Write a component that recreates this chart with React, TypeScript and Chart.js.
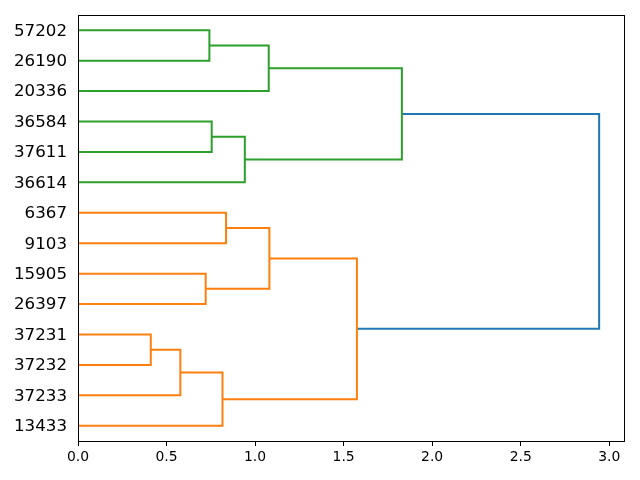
import React, { useEffect, useRef } from "react";
import { Chart, registerables } from "chart.js";

Chart.register(...registerables);

// Leaves from bottom (position 5) to top (position 135)
const LEAVES = ["13433", "37233", "37232", "37231", "26397", "15905", "9103", "6367", "36614", "37611", "36584", "20336", "26190", "57202"];

// Merges: clusters numbered from LEAVES.length upward
const MERGE_A = [3, 14, 15, 5, 7, 18, 19, 10, 21, 13, 23, 24, 25];
const MERGE_B = [2, 1, 0, 4, 6, 17, 16, 9, 8, 12, 11, 22, 20];
const MERGE_HEIGHT = [0.411, 0.578, 0.816, 0.721, 0.836, 1.081, 1.575, 0.755, 0.942, 0.742, 1.077, 1.829, 2.943];
const MERGE_COLOR = ["#ff7f0e", "#ff7f0e", "#ff7f0e", "#ff7f0e", "#ff7f0e", "#ff7f0e", "#ff7f0e", "#2ca02c", "#2ca02c", "#2ca02c", "#2ca02c", "#2ca02c", "#1f77b4"];

const X_TICKS = [0, 0.5, 1.0, 1.5, 2.0, 2.5, 3.0];
const X_MAX = 3.089;

function buildDatasets() {
  const pos: number[] = LEAVES.map((_, i) => 5 + 10 * i);
  const hgt: number[] = LEAVES.map(() => 0);
  const datasets: any[] = [];
  MERGE_A.forEach((a, k) => {
    const b = MERGE_B[k];
    const h = MERGE_HEIGHT[k];
    datasets.push({
      data: [
        { x: hgt[a], y: pos[a] },
        { x: h, y: pos[a] },
        { x: h, y: pos[b] },
        { x: hgt[b], y: pos[b] },
      ],
      borderColor: MERGE_COLOR[k],
      backgroundColor: MERGE_COLOR[k],
      borderWidth: 2,
      showLine: true,
      pointRadius: 0,
      tension: 0,
      fill: false,
    });
    pos.push((pos[a] + pos[b]) / 2);
    hgt.push(h);
  });
  return datasets;
}

const framePlugin = {
  id: "frame",
  afterDatasetsDraw(chart: any) {
    const { ctx, chartArea } = chart;
    ctx.save();
    ctx.strokeStyle = "#000";
    ctx.lineWidth = 1;
    ctx.strokeRect(
      Math.round(chartArea.left) + 0.5,
      Math.round(chartArea.top) + 0.5,
      Math.round(chartArea.right - chartArea.left) - 1,
      Math.round(chartArea.bottom - chartArea.top)
    );
    ctx.restore();
  },
};

export default function App() {
  const ref = useRef<HTMLCanvasElement>(null);
  useEffect(() => {
    if (!ref.current) return;
    const chart = new Chart(ref.current, {
      type: "scatter",
      data: { datasets: buildDatasets() },
      options: {
        animation: false,
        responsive: false,
        layout: { padding: { top: 15, right: 15, left: 0, bottom: 0 } },
        plugins: { legend: { display: false }, tooltip: { enabled: false } },
        scales: {
          x: {
            type: "linear",
            min: 0,
            max: X_MAX,
            afterBuildTicks: (s: any) => {
              s.ticks = X_TICKS.map((v) => ({ value: v }));
            },
            afterFit: (s: any) => {
              s.height = 39;
              s.paddingLeft = 0;
              s.paddingRight = 0;
            },
            border: { display: false },
            grid: { drawOnChartArea: false, drawTicks: true, tickLength: 5, color: "#000", lineWidth: 1 },
            ticks: {
              color: "#000",
              padding: 3,
              maxRotation: 0,
              autoSkip: false,
              font: { family: "DejaVu Sans", size: 13.9 },
              callback: (v: any) => Number(v).toFixed(1),
            },
          },
          y: {
            type: "linear",
            min: 0,
            max: 10 * LEAVES.length,
            afterBuildTicks: (s: any) => {
              s.ticks = LEAVES.map((_, i) => ({ value: 5 + 10 * i }));
            },
            afterFit: (s: any) => {
              s.width = 78;
              s.paddingTop = 0;
              s.paddingBottom = 0;
            },
            border: { display: false },
            grid: { display: false, drawTicks: false },
            ticks: {
              color: "#000",
              padding: 11,
              labelOffset: 1,
              autoSkip: false,
              font: { family: "DejaVu Sans", size: 16.67 },
              callback: (v: any) => {
                const i = Math.round((Number(v) - 5) / 10);
                return LEAVES[i] ?? "";
              },
            },
          },
        },
      },
      plugins: [framePlugin],
    });
    return () => chart.destroy();
  }, []);
  return (
    <div style={{ position: "absolute", left: 0, top: 0, width: 640, height: 480, background: "#fff" }}>
      <canvas ref={ref} width={640} height={480} style={{ display: "block" }} />
    </div>
  );
}
